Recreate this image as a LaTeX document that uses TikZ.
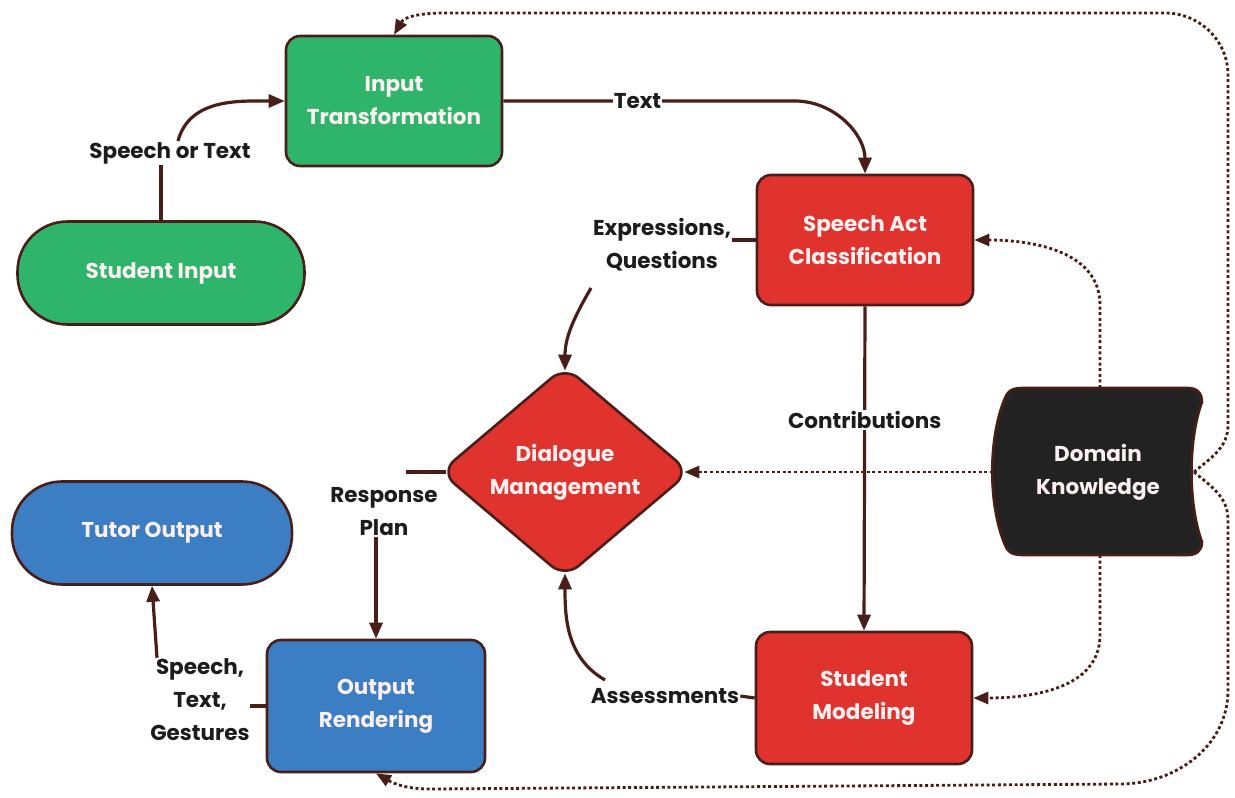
\documentclass[tikz,border=0pt]{standalone}
\usepackage{fontspec}
\setmainfont{Poppins}
\usetikzlibrary{arrows.meta,shapes.geometric}
\definecolor{gfill}{HTML}{2EB46B}
\definecolor{rfill}{HTML}{E0332E}
\definecolor{bfill}{HTML}{3B7EC4}
\definecolor{kfill}{HTML}{222222}
\definecolor{edgec}{HTML}{4A1E18}
\definecolor{ink}{HTML}{1C1C1C}
\definecolor{ntext}{HTML}{FBEFEF}
\tikzset{
 base/.style={draw=edgec, line width=2.6pt, text=ntext, align=center, font=\bfseries\fontsize{21.5}{33}\selectfont},
 boxnode/.style={base, rectangle, rounded corners=14pt, minimum width=216pt, minimum height=130pt},
 pill/.style={base, rectangle, rounded corners=50pt, minimum width=287pt, minimum height=103pt},
 dia/.style={base, diamond, rounded corners=18pt, minimum width=250pt, minimum height=212pt, inner sep=0pt},
 lbl/.style={text=ink, align=center, font=\bfseries\fontsize{21.5}{33}\selectfont, fill=white, inner sep=1pt},
 arr/.style={draw=edgec, line width=3.2pt, -{Triangle[length=16pt,width=13pt]}},
 ln/.style={draw=edgec, line width=3.2pt},
 dotarr/.style={draw=edgec, line width=2.8pt, dash pattern=on 3pt off 2.6pt, -{Triangle[length=15pt,width=12pt]}},
}
\begin{document}
\begin{tikzpicture}[x=1pt,y=1pt]
\useasboundingbox (0,0) rectangle (1235,-798);
% nodes
\node[boxnode, fill=gfill] (it) at (394,-101) {Input\\Transformation};
\node[pill, fill=gfill] (si) at (161,-273) {Student Input};
\node[boxnode, fill=rfill] (sac) at (865,-240) {Speech Act\\Classification};
\node[dia, fill=rfill] (dm) at (565,-472) {Dialogue\\Management};
\node[pill, fill=bfill, minimum width=280pt, minimum height=103pt] (to) at (152,-533) {Tutor Output};
\node[boxnode, fill=bfill, minimum width=218pt, minimum height=132pt] (or) at (376,-706) {Output\\Rendering};
\node[boxnode, fill=rfill, minimum height=132pt] (sm) at (864,-698) {Student\\Modeling};
% domain knowledge shape
\draw[draw=edgec, line width=2.6pt, fill=kfill]
  (1022,-388) -- (1188,-388)
  .. controls (1197,-388) and (1202,-393) .. (1202,-402)
  .. controls (1188,-440) and (1188,-504) .. (1202,-542)
  .. controls (1202,-550) and (1197,-555) .. (1188,-555)
  -- (1022,-555)
  .. controls (1010,-555) and (1007,-550) .. (1005,-545)
  .. controls (988,-505) and (988,-438) .. (1005,-398)
  .. controls (1007,-393) and (1010,-388) .. (1022,-388) -- cycle;
\node[text=ntext, align=center, font=\bfseries\fontsize{21.5}{33}\selectfont] (dk) at (1098,-472) {Domain\\Knowledge};
\coordinate (dkt) at (1100,-388);
\coordinate (dkb) at (1100,-555);
\coordinate (dkl) at (993,-472);
\coordinate (dkr) at (1194,-472);
% trimmed diamond vertices (rounded corners)
\coordinate (dmn) at ([yshift=-6pt]dm.north);
\coordinate (dms) at ([yshift=6pt]dm.south);
\coordinate (dmw) at ([xshift=7pt]dm.west);
\coordinate (dme) at ([xshift=-7pt]dm.east);
% labels
\node[lbl] (l1) at (170,-153) {Speech or Text};
\node[lbl] (l3) at (662,-245) {Expressions,\\Questions};
\node[lbl] (l6) at (384,-512) {Response\\Plan};
\node[lbl] (l7) at (200,-700) {Speech,\\Text,\\Gestures};
\node[lbl] (l5) at (665,-696) {Assessments};
\coordinate (c3) at (591,-288);
\coordinate (c5) at (605,-680);
% solid connectors
\draw[ln] (si.north) -- (si.north |- l1.south);
\draw[arr] ([xshift=8pt]l1.north) to[out=75,in=180] (it.west);
\draw[arr] (it.east) -- node[lbl,pos=0.46]{Text} (795,-101) to[out=0,in=90] (sac.north);
\draw[ln] (sac.west) -- (l3.east |- sac.west);
\draw[arr] (c3) to[out=240,in=90] (dmn);
\draw[arr] (sac.south) -- node[lbl,pos=0.35]{Contributions} (sm.north);
\draw[ln] (sm.west) -- (l5.east);
\draw[arr] (c5) to[out=150,in=-90] (dms);
\draw[ln] (dmw) -- ([xshift=-40pt]dmw);
\draw[arr] (l6.south -| or.north) -- (or.north);
\draw[ln] (or.west) -- ([xshift=-16pt]or.west);
\draw[arr] ([xshift=-43pt]l7.north) -- (to.south);
% dotted connectors
\draw[dotarr] (dkl) -- (dme);
\draw[dotarr] (dkt) -- (1100,-305) to[out=90,in=0] (sac.east);
\draw[dotarr] (dkb) -- (1100,-635) to[out=-90,in=0] (sm.east);
\draw[dotarr] (dkr) to[out=40,in=-90] (1228,-425) -- (1228,-75) to[out=90,in=0] (1165,-13) -- (445,-13) to[out=180,in=60] (it.north);
\draw[dotarr] (dkr) to[out=-40,in=90] (1228,-520) -- (1228,-690) to[out=-90,in=0] (1120,-784) -- (430,-789) to[out=180,in=-30] (or.south);
\end{tikzpicture}
\end{document}
